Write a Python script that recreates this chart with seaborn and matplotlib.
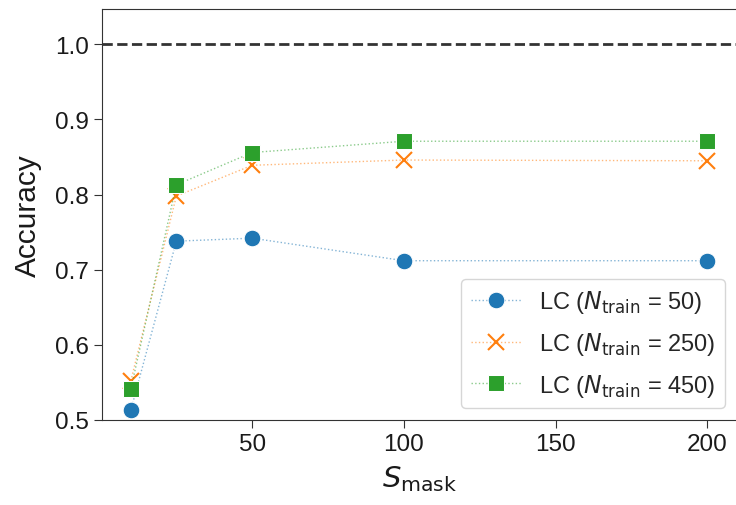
import matplotlib
matplotlib.use("Agg")
import matplotlib.pyplot as plt
import seaborn as sns
import numpy as np
from matplotlib.colors import to_rgba

s_mask = [10, 25, 50, 100, 200]
acc_n50 = [0.513, 0.738, 0.742, 0.712, 0.712]
acc_n250 = [0.552, 0.798, 0.839, 0.846, 0.845]
acc_n450 = [0.541, 0.813, 0.856, 0.871, 0.871]
series_labels = [r"LC ($N_{\mathrm{train}}$ = 50)",
                 r"LC ($N_{\mathrm{train}}$ = 250)",
                 r"LC ($N_{\mathrm{train}}$ = 450)"]
yticks = [0.5, 0.6, 0.7, 0.8, 0.9, 1.0]
xticks = [50, 100, 150, 200]

sns.set_style("ticks")
plt.rcParams['font.family'] = ['Liberation Sans', 'DejaVu Sans']
plt.rcParams['mathtext.fontset'] = 'dejavusans'

fig = plt.figure(figsize=(7.36, 5.06), dpi=100)
W, H = 736, 506
left, right, top, bottom = 102, 737, 10, 421
ax = fig.add_axes([left / W, (H - bottom) / H, (right - left) / W, (bottom - top) / H])

colors = sns.color_palette("tab10", 3)
markers = ["o", "x", "s"]
msizes = [12, 11, 11]
for vals, lab, c, m, ms in zip([acc_n50, acc_n250, acc_n450], series_labels, colors, markers, msizes):
    sns.lineplot(x=s_mask, y=vals, ax=ax, color=c, marker=m, markersize=ms,
                 linestyle=":", linewidth=1.0, label=lab, legend=False)

for line, c, m in zip(ax.lines, colors, markers):
    line.set_color(to_rgba(c, 0.55))
    line.set_markerfacecolor(c)
    if m == "x":
        line.set_markeredgecolor(c)
        line.set_markeredgewidth(1.5)
    else:
        line.set_markeredgecolor("white")
        line.set_markeredgewidth(0.75)

ax.axhline(1.0, color="#333333", linestyle="--", linewidth=2)

ax.set_xlim(0.5, 209.8)
ax.set_ylim(0.5, 1.047)
ax.set_xticks(xticks)
ax.set_yticks(yticks)
ax.set_yticklabels([f"{v:.1f}" for v in yticks])
ax.tick_params(labelsize=17.5, length=6, color="#333333", labelcolor="#1a1a1a")
for sp in ax.spines.values():
    sp.set_color("#333333")
ax.set_xlabel(r"$S_{\mathrm{mask}}$", fontsize=21, color="#1a1a1a", labelpad=6)
ax.set_ylabel("Accuracy", fontsize=21.5, color="#1a1a1a", labelpad=9)

leg = ax.legend(loc="lower right", fontsize=17, frameon=True, handletextpad=0.8,
                handlelength=2.1, labelspacing=0.62)
leg.get_frame().set_edgecolor("#cccccc")

fig.savefig("out.png", dpi=100)
